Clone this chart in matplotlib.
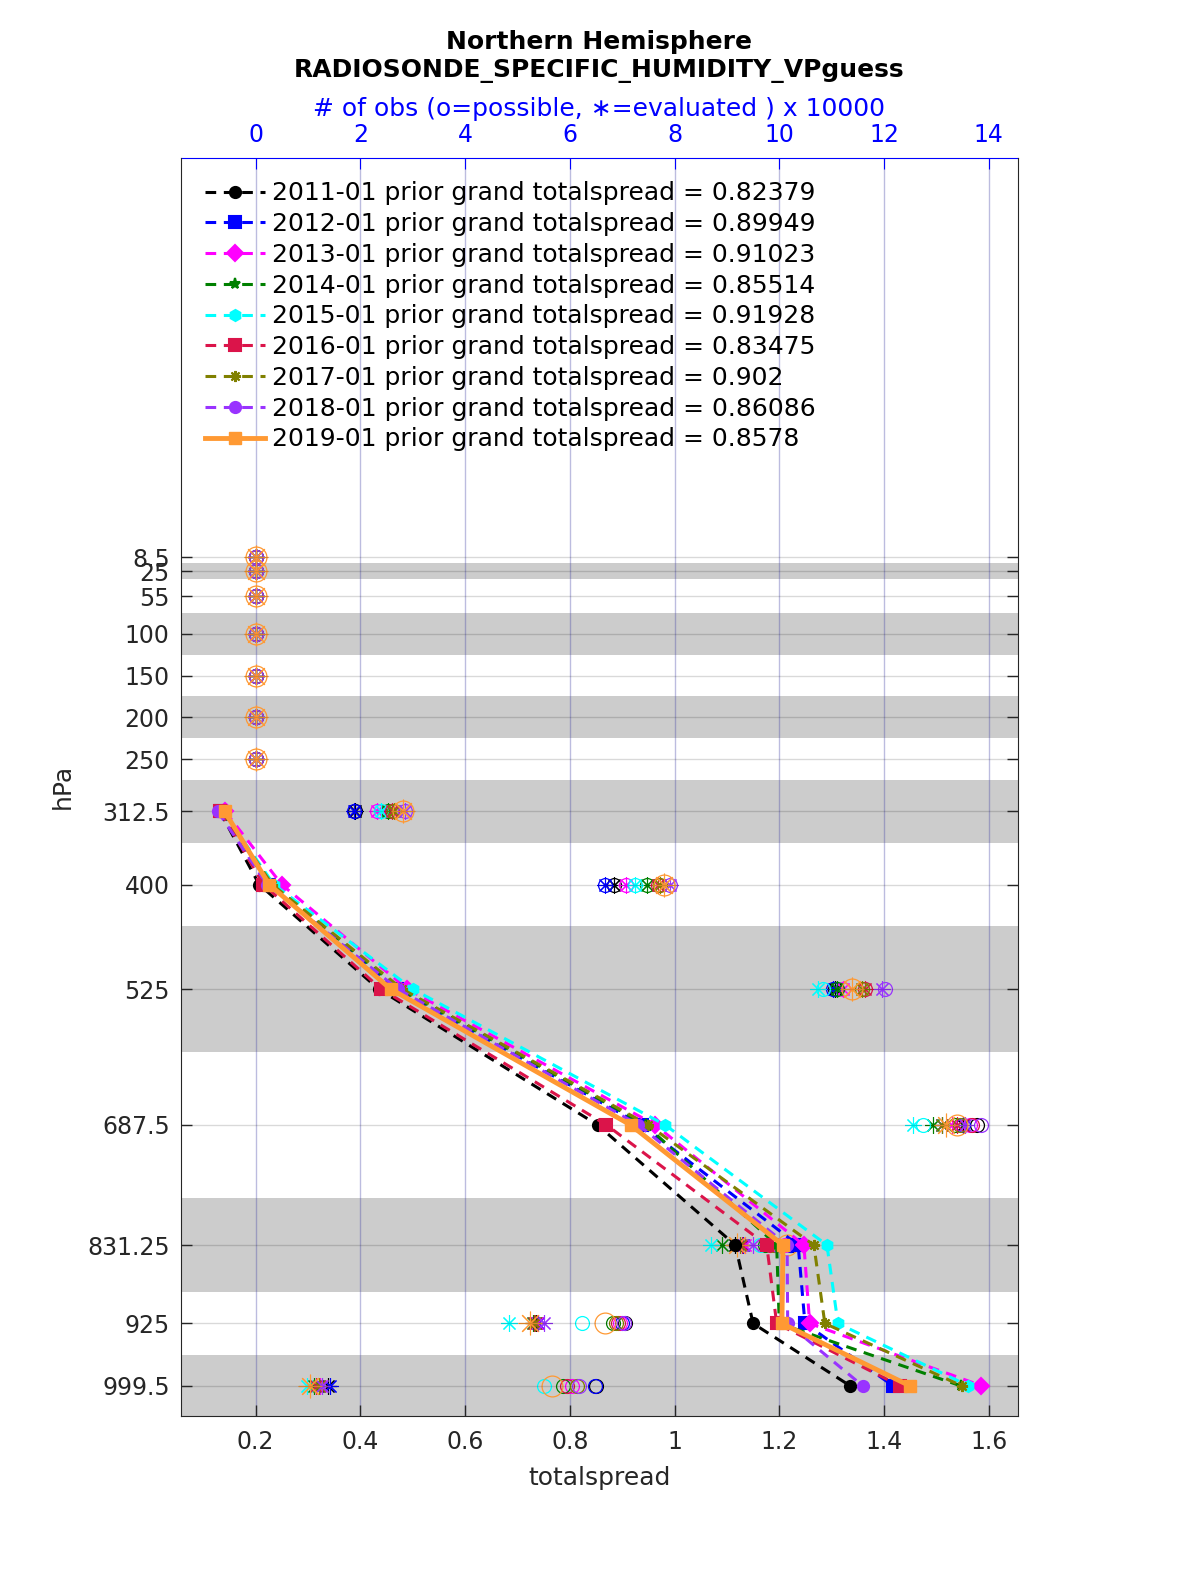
import numpy as np
import matplotlib
matplotlib.use("Agg")
import matplotlib.pyplot as plt

# pressure levels (hPa)
levels = [8.5, 25, 55, 100, 150, 200, 250, 312.5, 400, 525, 687.5, 831.25, 925, 999.5]
level_labels = ['8.5', '25', '55', '100', '150', '200', '250', '312.5', '400', '525',
                '687.5', '831.25', '925', '999.5']
spread_levels = [312.5, 400, 525, 687.5, 831.25, 925, 999.5]

years = ['2011-01', '2012-01', '2013-01', '2014-01', '2015-01', '2016-01',
         '2017-01', '2018-01', '2019-01']
grand = ['0.82379', '0.89949', '0.91023', '0.85514', '0.91928', '0.83475',
         '0.902', '0.86086', '0.8578']

# totalspread at 312.5 ... 999.5 hPa
spread = {
    '2011-01': [0.132, 0.207, 0.435, 0.853, 1.116, 1.150, 1.335],
    '2012-01': [0.135, 0.225, 0.470, 0.937, 1.236, 1.249, 1.417],
    '2013-01': [0.142, 0.250, 0.490, 0.963, 1.247, 1.258, 1.586],
    '2014-01': [0.136, 0.232, 0.475, 0.945, 1.195, 1.200, 1.546],
    '2015-01': [0.138, 0.235, 0.500, 0.982, 1.291, 1.312, 1.561],
    '2016-01': [0.133, 0.215, 0.440, 0.870, 1.176, 1.195, 1.430],
    '2017-01': [0.137, 0.232, 0.480, 0.950, 1.266, 1.287, 1.548],
    '2018-01': [0.128, 0.222, 0.472, 0.931, 1.215, 1.216, 1.359],
    '2019-01': [0.141, 0.226, 0.458, 0.916, 1.207, 1.205, 1.449],
}

# obs counts (x 10000) at all levels
possible = {
    '2011-01': [0, 0, 0, 0, 0, 0, 0, 1.90, 6.84, 11.06, 13.77, 10.22, 7.05, 6.50],
    '2012-01': [0, 0, 0, 0, 0, 0, 0, 1.88, 6.67, 11.02, 13.50, 10.20, 6.99, 6.48],
    '2013-01': [0, 0, 0, 0, 0, 0, 0, 2.32, 7.07, 11.21, 13.65, 10.10, 6.95, 6.04],
    '2014-01': [0, 0, 0, 0, 0, 0, 0, 2.53, 7.47, 11.10, 13.35, 9.72, 6.82, 5.87],
    '2015-01': [0, 0, 0, 0, 0, 0, 0, 2.40, 7.24, 10.83, 12.74, 9.63, 6.23, 5.51],
    '2016-01': [0, 0, 0, 0, 0, 0, 0, 2.60, 7.68, 11.63, 13.67, 9.82, 6.92, 5.95],
    '2017-01': [0, 0, 0, 0, 0, 0, 0, 2.64, 7.72, 11.57, 13.45, 9.90, 6.88, 6.13],
    '2018-01': [0, 0, 0, 0, 0, 0, 0, 2.85, 7.91, 12.02, 13.86, 9.95, 7.03, 6.18],
    '2019-01': [0, 0, 0, 0, 0, 0, 0, 2.81, 7.80, 11.38, 13.40, 10.14, 6.67, 5.66],
}
evaluated = {
    '2011-01': [0, 0, 0, 0, 0, 0, 0, 1.90, 6.84, 11.06, 13.50, 9.15, 5.35, 1.38],
    '2012-01': [0, 0, 0, 0, 0, 0, 0, 1.88, 6.67, 11.02, 13.10, 9.30, 5.40, 1.42],
    '2013-01': [0, 0, 0, 0, 0, 0, 0, 2.32, 7.07, 11.21, 13.30, 9.35, 5.38, 1.22],
    '2014-01': [0, 0, 0, 0, 0, 0, 0, 2.53, 7.47, 11.10, 12.93, 8.90, 5.30, 1.12],
    '2015-01': [0, 0, 0, 0, 0, 0, 0, 2.40, 7.24, 10.74, 12.55, 8.69, 4.84, 0.98],
    '2016-01': [0, 0, 0, 0, 0, 0, 0, 2.60, 7.68, 11.63, 13.40, 9.28, 5.32, 1.15],
    '2017-01': [0, 0, 0, 0, 0, 0, 0, 2.64, 7.72, 11.57, 13.10, 9.25, 5.33, 1.20],
    '2018-01': [0, 0, 0, 0, 0, 0, 0, 2.85, 7.91, 11.96, 13.55, 9.49, 5.50, 1.27],
    '2019-01': [0, 0, 0, 0, 0, 0, 0, 2.81, 7.80, 11.38, 13.19, 9.19, 5.24, 1.04],
}

# shaded layers (hPa)
bands = [(15, 35), (75, 125), (175, 225), (275, 350), (450, 600), (775, 887.5), (962.5, 1040)]

colors = ['black', (0, 0, 1), (1, 0, 1), (0, 0.5, 0), (0, 1, 1), (0.86, 0.08, 0.29),
          (0.5, 0.5, 0), (0.6, 0.2, 1), (1, 0.6, 0.2)]
markers = ['o', 's', 'D', '*', 'h', 's', (8, 2, 0), 'o', 's']

plt.rcParams['font.family'] = ['DejaVu Sans']
plt.rcParams['font.size'] = 18

fig = plt.figure(figsize=(12, 15.75), dpi=100)
ax = fig.add_axes([0.1507, 0.101, 0.6973, 0.7989])
tw = ax.twiny()

# obs-count axis sits underneath the spread axis
ax.set_zorder(tw.get_zorder() + 1)
ax.patch.set_visible(False)
tw.patch.set_visible(True)
tw.patch.set_facecolor('white')

for lo, hi in bands:
    tw.axhspan(lo, hi, color=(0.8, 0.8, 0.8), lw=0, zorder=0.2)

tw.grid(axis='x', color=(0.25, 0.25, 0.65), alpha=0.35, lw=1.0)

for i, yr in enumerate(years):
    big = yr == '2019-01'
    ms = 15 if big else 10
    tw.plot(possible[yr], levels, ls='none', marker='o', mfc='none', mec=colors[i],
            ms=ms, mew=0.9, zorder=2)
    tw.plot(evaluated[yr], levels, ls='none', marker=(8, 2, 0), mec=colors[i],
            ms=ms + 2, mew=0.8, zorder=2)

ax.grid(axis='y', color='k', alpha=0.15, lw=1.0)

for i, yr in enumerate(years):
    label = f"{yr} prior grand totalspread = {grand[i]}"
    if yr == '2019-01':
        ax.plot(spread[yr], spread_levels, color=colors[i], lw=3.5, marker='s', ms=8,
                label=label, zorder=3)
    else:
        ax.plot(spread[yr], spread_levels, color=colors[i], lw=2.2, ls=(0, (3.5, 2.5)),
                marker=markers[i], ms=8, mew=1.5, label=label, zorder=3)

ax.set_ylim(1035.6, -469.5)
ax.set_xlim(0.0574, 1.655)
tw.set_xlim(-1.43, 14.55)

ax.set_yticks(levels)
ax.set_yticklabels(level_labels)
ax.set_xticks([0.2, 0.4, 0.6, 0.8, 1.0, 1.2, 1.4, 1.6])
ax.set_xticklabels(['0.2', '0.4', '0.6', '0.8', '1', '1.2', '1.4', '1.6'])
ax.tick_params(axis='both', direction='in', length=8, width=1, colors=(0.15, 0.15, 0.15),
               labelsize=17)
ax.tick_params(axis='x', pad=10)
ax.tick_params(axis='y', pad=8, right=True)
ax.spines['top'].set_visible(False)
for s in ['left', 'right', 'bottom']:
    ax.spines[s].set_color((0.15, 0.15, 0.15))

tw.set_xticks(np.arange(0, 15, 2))
tw.tick_params(axis='x', direction='in', length=8, colors='blue', pad=8, labelsize=17)
for s in ['left', 'right', 'bottom']:
    tw.spines[s].set_visible(False)
tw.spines['top'].set_color('blue')
tw.set_xlabel('# of obs (o=possible, \u2217=evaluated ) x 10000', color='blue', labelpad=5)

ax.set_xlabel('totalspread', color=(0.15, 0.15, 0.15), labelpad=9)
ax.set_ylabel('hPa', color=(0.15, 0.15, 0.15), labelpad=9)

ax.legend(loc='upper left', frameon=False, fontsize=18, handlelength=2.4,
          handletextpad=0.3, labelspacing=0.27, borderaxespad=0.55)

xc = 0.1507 + 0.6973 / 2
fig.text(xc, 1 - 42 / 1575, 'Northern Hemisphere', ha='center', va='center',
         fontsize=18, fontweight='bold')
fig.text(xc, 1 - 71 / 1575, 'RADIOSONDE_SPECIFIC_HUMIDITY_VPguess', ha='center',
         va='center', fontsize=18, fontweight='bold')

fig.savefig('out.png', dpi=100)
